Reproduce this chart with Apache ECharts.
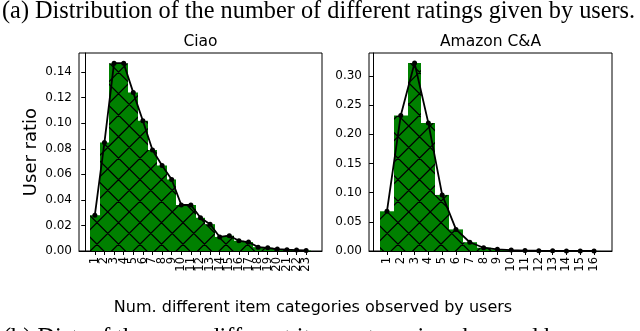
<!DOCTYPE html>
<html>
<head>
<meta charset="utf-8">
<script src="https://cdn.jsdelivr.net/npm/echarts@6/dist/echarts.min.js"></script>
<style>
html,body{margin:0;padding:0;background:#fff;}
#chart{width:640px;height:331px;position:absolute;left:0;top:0;}
</style>
</head>
<body>
<div id="chart"></div>
<script>
// ---- data ----
const ciaoCategories = [1,2,3,4,5,6,7,8,9,10,11,12,13,14,15,16,17,18,19,20,21,22,23];
const ciaoValues = [0.028,0.085,0.147,0.147,0.124,0.102,0.079,0.067,0.056,0.036,0.036,0.026,0.021,0.011,0.012,0.008,0.007,0.003,0.0025,0.0015,0.001,0.0007,0.0004];
const amazonCategories = [1,2,3,4,5,6,7,8,9,10,11,12,13,14,15,16];
const amazonValues = [0.068,0.232,0.322,0.219,0.096,0.037,0.015,0.0056,0.0028,0.0015,0.0008,0.0005,0.0003,0.0002,0.0001,0.0001];
const ciaoYTicks = [0,0.02,0.04,0.06,0.08,0.10,0.12,0.14];
const amazonYTicks = [0,0.05,0.10,0.15,0.20,0.25,0.30];
const titles = ['Ciao','Amazon C&A'];
const yLabel = 'User ratio';
const xLabel = 'Num. different item categories observed by users';
const captionA = '(a) Distribution of the number of different ratings given by users.';
const captionB = '(b) Dist. of the num. different item categories observed by users';

// ---- hatch pattern (green with black X hatch) ----
function makeHatch(){
  const T = 129, n = 6, p = T / n;
  const c = document.createElement('canvas');
  c.width = T; c.height = T;
  const g = c.getContext('2d');
  g.fillStyle = '#008000';
  g.fillRect(0,0,T,T);
  g.strokeStyle = '#000';
  g.lineWidth = 1.3;
  const cA = 3.3, cB = 18.7;
  g.beginPath();
  for (let k = -14; k <= 14; k++) {
    const a = cA + k * p;
    g.moveTo(a - 10, -10); g.lineTo(a + T + 10, T + 10);
    const b = cB + k * p;
    g.moveTo(b + 10, -10); g.lineTo(b - T - 10, T + 10);
  }
  g.stroke();
  return c;
}
const hatch = { image: makeHatch(), repeat: 'repeat' };

function barRender(params, api){
  const x = api.value(0), y = api.value(1);
  const p0 = api.coord([x - 0.5, y]);
  const p1 = api.coord([x + 0.5, 0]);
  const x0 = Math.round(p0[0]), x1 = Math.round(p1[0]);
  return {
    type: 'rect',
    shape: { x: x0, y: p0[1], width: x1 - x0, height: p1[1] - p0[1] },
    style: { fill: hatch }
  };
}

const font = 'DejaVu Sans';
function xAxisCfg(idx, tickVals, labelVals, min, max, showLine){
  return {
    type: 'value', gridIndex: idx, min: min, max: max, position: 'bottom',
    splitLine: { show: false },
    axisLine: { show: showLine, onZero: false, lineStyle: { color: '#000', width: 1 } },
    axisTick: { show: showLine, customValues: tickVals, length: 4, lineStyle: { color: '#000', width: 1 } },
    axisLabel: { customValues: labelVals, rotate: 90, fontSize: 11.5, color: '#000', fontFamily: font, margin: 6,
      hideOverlap: false, showMinLabel: true, showMaxLabel: true }
  };
}
function yAxisCfg(idx, ticks, max, name){
  return {
    type: 'value', gridIndex: idx, min: 0, max: max,
    splitLine: { show: false },
    axisLine: { show: true, lineStyle: { color: '#000', width: 1 } },
    axisTick: { show: true, customValues: ticks, length: 4, lineStyle: { color: '#000', width: 1 } },
    axisLabel: { customValues: ticks, fontSize: 12, color: '#000', fontFamily: font, margin: 7,
      showMinLabel: true, showMaxLabel: true, hideOverlap: false,
      formatter: v => v.toFixed(2) },
    name: name, nameLocation: 'middle', nameGap: 39, nameRotate: 90,
    nameTextStyle: { fontSize: 18, color: '#000', fontFamily: font }
  };
}

const ciaoOdd = ciaoCategories.filter(c => c % 2 === 1);
const ciaoEven = ciaoCategories.filter(c => c % 2 === 0);
const amazonOdd = amazonCategories.filter(c => c % 2 === 1);
const amazonEven = amazonCategories.filter(c => c % 2 === 0);

const chart = echarts.init(document.getElementById('chart'), null, { renderer: 'canvas' });
chart.setOption({
  animation: false,
  backgroundColor: '#fff',
  grid: [
    { left: 79, top: 53, width: 243, height: 198, show: true, borderColor: '#000', borderWidth: 1, backgroundColor: 'transparent' },
    { left: 369, top: 53, width: 243, height: 198, show: true, borderColor: '#000', borderWidth: 1, backgroundColor: 'transparent' }
  ],
  xAxis: [
    xAxisCfg(0, ciaoCategories, ciaoOdd, -0.65, 24.65, true),
    xAxisCfg(1, amazonCategories, amazonOdd, -0.3, 17.3, true),
    xAxisCfg(0, ciaoCategories, ciaoEven, -0.65, 24.65, false),
    xAxisCfg(1, amazonCategories, amazonEven, -0.3, 17.3, false)
  ],
  yAxis: [
    yAxisCfg(0, ciaoYTicks, 0.155, yLabel),
    yAxisCfg(1, amazonYTicks, 0.339, '')
  ],
  series: [
    { type: 'custom', xAxisIndex: 0, yAxisIndex: 0, renderItem: barRender,
      data: ciaoCategories.map((c,i) => [c, ciaoValues[i]]), z: 2 },
    { type: 'custom', xAxisIndex: 1, yAxisIndex: 1, renderItem: barRender,
      data: amazonCategories.map((c,i) => [c, amazonValues[i]]), z: 2 },
    { type: 'line', xAxisIndex: 0, yAxisIndex: 0, data: ciaoCategories.map((c,i) => [c, ciaoValues[i]]),
      symbol: 'circle', symbolSize: 5, lineStyle: { color: '#000', width: 1.8 }, itemStyle: { color: '#000' }, z: 5 },
    { type: 'line', xAxisIndex: 1, yAxisIndex: 1, data: amazonCategories.map((c,i) => [c, amazonValues[i]]),
      symbol: 'circle', symbolSize: 5, lineStyle: { color: '#000', width: 1.8 }, itemStyle: { color: '#000' }, z: 5 }
  ],
  graphic: [
    { type: 'text', x: 2, y: 11.2, style: { text: captionA, font: '24.3px "Liberation Serif"', fill: '#000', align: 'left', verticalAlign: 'middle' } },
    { type: 'text', x: 3, y: 338.5, style: { text: captionB, font: '24.3px "Liberation Serif"', fill: '#000', align: 'left', verticalAlign: 'middle' } },
    { type: 'text', x: 200.5, y: 41.5, style: { text: titles[0], font: '15.5px "DejaVu Sans"', fill: '#000', align: 'center', verticalAlign: 'middle' } },
    { type: 'text', x: 490.5, y: 41.5, style: { text: titles[1], font: '15.5px "DejaVu Sans"', fill: '#000', align: 'center', verticalAlign: 'middle' } },
    { type: 'text', x: 313, y: 308, style: { text: xLabel, font: '16px "DejaVu Sans"', fill: '#000', align: 'center', verticalAlign: 'middle' } }
  ]
});
</script>
</body>
</html>
